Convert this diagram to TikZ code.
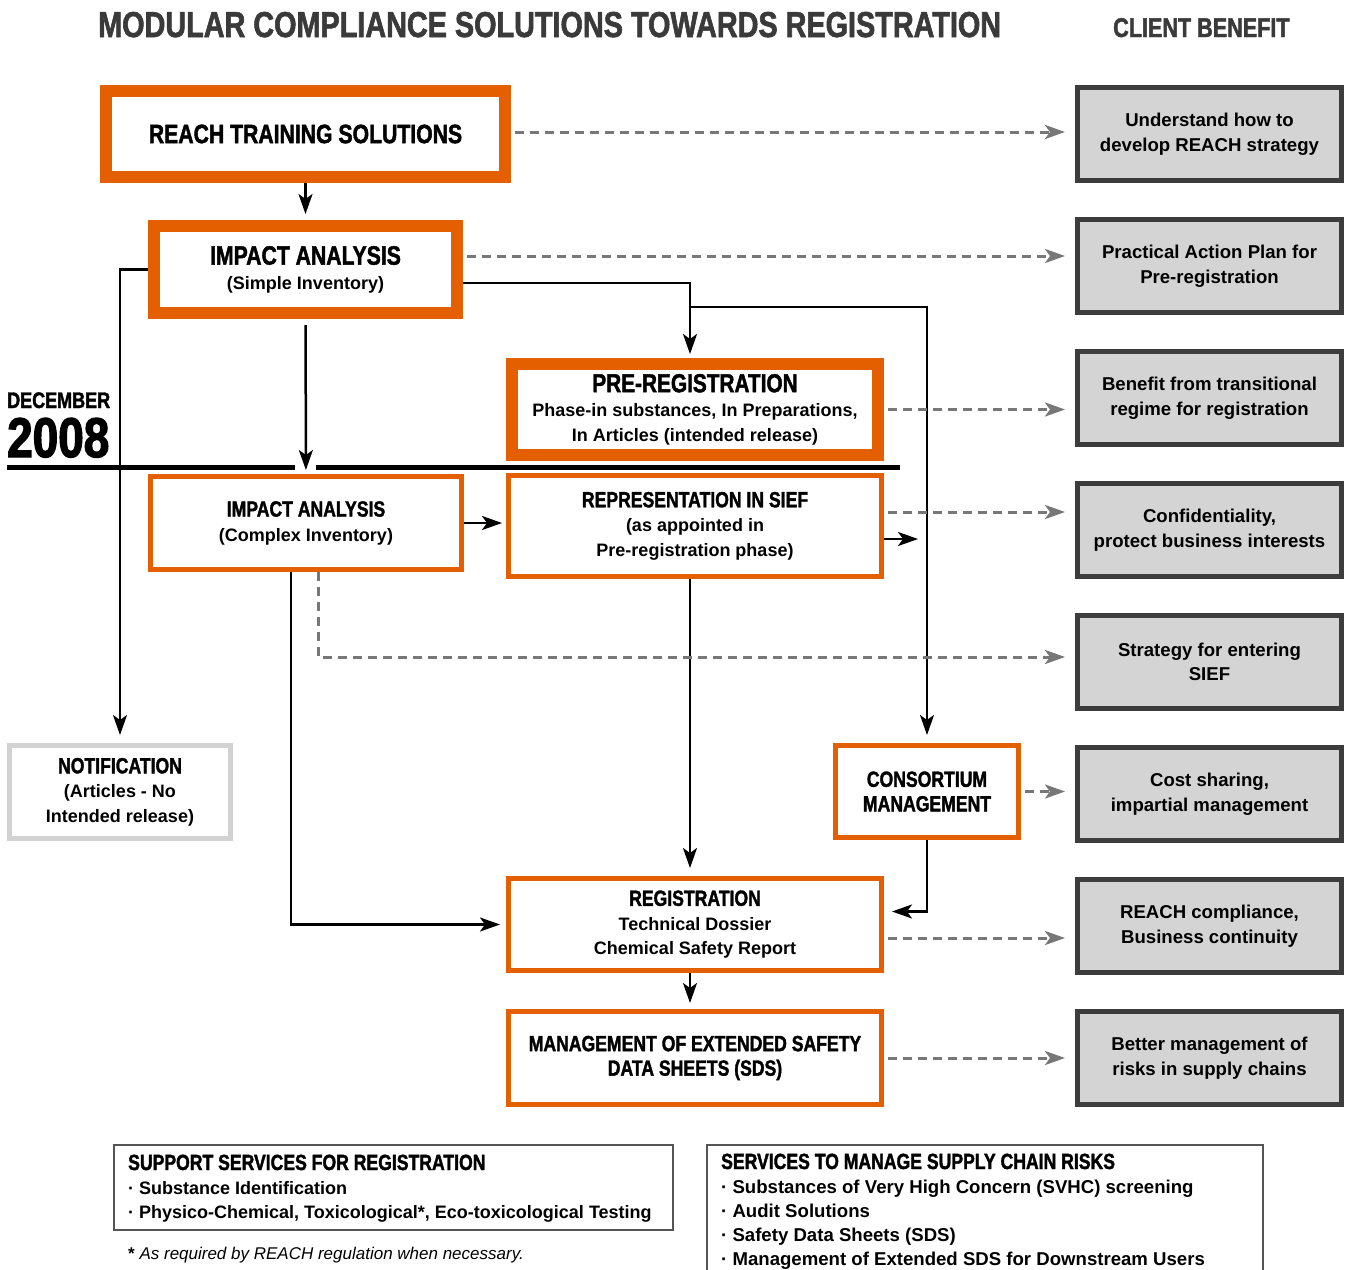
\documentclass[tikz,border=0pt]{standalone}
\usepackage{fontspec}
\setmainfont{Liberation Sans}
\newfontfamily\condf[FakeStretch=0.8,FakeBold=1.6]{Liberation Sans Bold}
\newfontfamily\condy[FakeStretch=0.82,FakeBold=2.2]{Liberation Sans Bold}
\usetikzlibrary{arrows.meta,calc}
\definecolor{orng}{HTML}{E35F00}
\definecolor{rbfill}{HTML}{D4D4D4}
\definecolor{rbdraw}{HTML}{3C3C3C}
\definecolor{dgray}{HTML}{777777}
\definecolor{ngray}{HTML}{D2D2D2}
\definecolor{ttl}{HTML}{3A3A3A}
\definecolor{boxg}{HTML}{555555}
\newcommand{\bodyf}{\bfseries\fontsize{18}{24.5}\selectfont}
\newcommand{\benf}{\bfseries\fontsize{18.6}{24.5}\selectfont}
\newcommand{\hdA}{\condf\fontsize{26.5}{24.5}\selectfont}
\newcommand{\hdB}{\condf\fontsize{22}{24.5}\selectfont}
\tikzset{
  obox/.style={draw=orng, line width=12pt, fill=white, align=center, inner sep=0pt, font=\bodyf},
  tbox/.style={draw=orng, line width=5pt, fill=white, align=center, inner sep=0pt, font=\bodyf},
  nbox/.style={draw=ngray, line width=5pt, fill=white, align=center, inner sep=0pt, font=\bodyf},
  rbox/.style={draw=rbdraw, fill=rbfill, line width=5pt, minimum width=264pt, minimum height=93pt, align=center, inner sep=0pt, font=\benf},
  arr/.style={line width=2.5pt, -{Stealth[length=20pt,width=14pt,inset=5pt]}},
  darr/.style={draw=dgray, line width=3pt, dash pattern=on 9pt off 6pt, shorten <=4pt, shorten >=10pt, -{Stealth[length=20pt,width=14pt,inset=5pt]}},
  txt/.style={anchor=base west, inner sep=0pt, font=\bodyf},
}
\begin{document}
\begin{tikzpicture}[x=1pt,y=-1pt]
\useasboundingbox (0,0) rectangle (1349,1269);
\fill[white] (0,0) rectangle (1349,1269);

% titles
\node[txt, text=ttl, font=\condf\fontsize{36}{36}\selectfont] (title) at (98,37) {MODULAR COMPLIANCE SOLUTIONS TOWARDS REGISTRATION};
\node[txt, text=ttl, font=\condf\fontsize{27}{27}\selectfont] (cbt) at (1113,37) {CLIENT BENEFIT};

% december line
\node[txt, font=\condf\fontsize{22.5}{22.5}\selectfont] (dec) at (7,408) {DECEMBER};
\node[txt, font=\condy\fontsize{56}{56}\selectfont] (yr) at (7,457) {2008};
\draw[line width=5pt] (7,467) -- (295,467);
\draw[line width=5pt] (316,467) -- (900,467);

% main boxes
\node[obox, minimum width=399pt, minimum height=86pt] (rts) at (305.5,134) {{\hdA REACH TRAINING SOLUTIONS}};
\node[obox, minimum width=303pt, minimum height=87pt] (ias) at (305.5,269.5) {{\hdA IMPACT ANALYSIS}\\(Simple Inventory)};
\node[obox, minimum width=366pt, minimum height=91pt] (prereg) at (695,409.5) {{\condf\fontsize{26}{24.5}\selectfont PRE-REGISTRATION}\\Phase-in substances, In Preparations,\\In Articles (intended release)};
\node[tbox, minimum width=311pt, minimum height=93pt] (iac) at (306,523) {{\hdB IMPACT ANALYSIS}\\(Complex Inventory)};
\node[tbox, minimum width=373pt, minimum height=101pt] (sief) at (695,526) {{\hdB REPRESENTATION IN SIEF}\\(as appointed in\\Pre-registration phase)};
\node[nbox, minimum width=221pt, minimum height=93pt] (notif) at (120,792) {{\hdB NOTIFICATION}\\(Articles - No\\Intended release)};
\node[tbox, minimum width=183pt, minimum height=92pt] (cons) at (927,791.5) {{\hdB CONSORTIUM}\\{\hdB MANAGEMENT}};
\node[tbox, minimum width=373pt, minimum height=92pt] (reg) at (695,924.5) {{\hdB REGISTRATION}\\Technical Dossier\\Chemical Safety Report};
\node[tbox, minimum width=373pt, minimum height=93pt] (sds) at (695,1058) {{\hdB MANAGEMENT OF EXTENDED SAFETY}\\{\hdB DATA SHEETS (SDS)}};

% client benefit boxes
\node[rbox] (rb1) at (1209.5,134) {Understand how to\\develop REACH strategy};
\node[rbox] (rb2) at (1209.5,266) {Practical Action Plan for\\Pre-registration};
\node[rbox] (rb3) at (1209.5,398) {Benefit from transitional\\regime for registration};
\node[rbox] (rb4) at (1209.5,530) {Confidentiality,\\protect business interests};
\node[rbox] (rb5) at (1209.5,662) {Strategy for entering\\SIEF};
\node[rbox] (rb6) at (1209.5,794) {Cost sharing,\\impartial management};
\node[rbox] (rb7) at (1209.5,926) {REACH compliance,\\Business continuity};
\node[rbox] (rb8) at (1209.5,1058) {Better management of\\risks in supply chains};

% solid connectors
\draw[arr, shorten >=6pt] (rts) -- (ias);
\draw[arr, shorten <=6pt, shorten >=4pt] (ias) -- (iac);
\draw[arr, shorten >=8pt] (ias.west) -| (notif.north);
\coordinate (b1) at (690,283);
\draw[arr, shorten >=4pt] ([yshift=-13.5pt]ias.east) -- (b1) -- (b1 |- prereg.north);
\coordinate (b2) at (690,307);
\draw[arr, shorten >=8pt] (b2) -| (cons.north);
\draw[arr, shorten >=4pt] (iac.east) -- (iac.east -| sief.west);
\coordinate (v) at (927,539);
\draw[arr, shorten >=9pt] ([yshift=-13pt]sief.east) -- (v);
\draw[arr, shorten >=8pt] ([xshift=-5pt]sief.south) -- ([xshift=-5pt]reg.north);
\draw[arr, shorten >=6pt] ([xshift=-15pt]iac.south) |- (reg.west);
\draw[arr, shorten >=8pt] (cons.south) |- ([yshift=13pt]reg.east);
\draw[arr, shorten >=6pt] ([xshift=-5pt]reg.south) -- ([xshift=-5pt]sds.north);

% dashed benefit connectors
\coordinate (d1) at ([yshift=2pt]rts.east);
\draw[darr] (d1) -- (d1 -| rb1.west);
\coordinate (d2) at ([yshift=13.5pt]ias.east);
\draw[darr] (d2) -- (d2 -| rb2.west);
\draw[darr] (prereg.east) -- (prereg.east -| rb3.west);
\coordinate (d4) at ([yshift=14pt]sief.east);
\draw[darr] (d4) -- (d4 -| rb4.west);
\draw[darr, shorten <=0pt] ([xshift=12pt]iac.south) |- ([yshift=5pt]rb5.west);
\draw[darr] (cons.east) -- (cons.east -| rb6.west);
\coordinate (d7) at ([yshift=-13.5pt]reg.east);
\draw[darr] (d7) -- (d7 -| rb7.west);
\draw[darr] (sds.east) -- (sds.east -| rb8.west);

% bottom boxes
\draw[boxg, line width=1.5pt] (114,1145) rectangle (673,1230);
\node[txt, font=\hdB] (s1) at (128,1170) {SUPPORT SERVICES FOR REGISTRATION};
\node[txt] (s2) at (128,1194) {· Substance Identification};
\node[txt] (s3) at (128,1218) {· Physico-Chemical, Toxicological*, Eco-toxicological Testing};
\node[txt, font=\fontsize{17}{20}\selectfont] (fn) at (128,1259) {\textbf{*} \textit{As required by REACH regulation when necessary.}};

\draw[boxg, line width=1.5pt] (707,1275) -- (707,1145) -- (1263,1145) -- (1263,1275);
\node[txt, font=\hdB] (t1) at (721,1169) {SERVICES TO MANAGE SUPPLY CHAIN RISKS};
\node[txt, font=\benf] (t2) at (721,1193) {· Substances of Very High Concern (SVHC) screening};
\node[txt, font=\benf] (t3) at (721,1217) {· Audit Solutions};
\node[txt, font=\benf] (t4) at (721,1241) {· Safety Data Sheets (SDS)};
\node[txt, font=\benf] (t5) at (721,1265) {· Management of Extended SDS for Downstream Users};
\end{tikzpicture}
\end{document}
